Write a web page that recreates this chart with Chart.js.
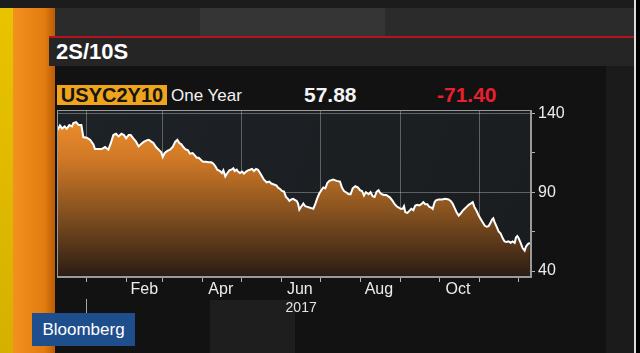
<!DOCTYPE html>
<html>
<head>
<meta charset="utf-8">
<script src="https://cdn.jsdelivr.net/npm/chart.js@4/dist/chart.umd.min.js"></script>
<style>
  html,body{margin:0;padding:0;}
  body{width:640px;height:353px;overflow:hidden;position:relative;background:#111;font-family:"Liberation Sans",Arial,sans-serif;}
  .abs{position:absolute;}
  #c{position:absolute;left:0;top:0;}
</style>
</head>
<body>
<div class="abs" style="left:0;top:0;width:640px;height:353px;background:#141414;"></div>
<div class="abs" style="left:0;top:0;width:13px;height:353px;background:linear-gradient(#e8c400,#d6b000);"></div>
<div class="abs" style="left:13px;top:0;width:42px;height:353px;background:linear-gradient(to right,#f3901e,#e27c10 75%,#b85c06);"></div>
<div class="abs" style="left:0;top:0;width:640px;height:8px;background:#1c1c1c;"></div>
<div class="abs" style="left:55px;top:8px;width:579px;height:28px;background:#2b2b2b;"></div>
<div class="abs" style="left:200px;top:8px;width:185px;height:28px;background:#353535;"></div>
<div class="abs" style="left:49px;top:36px;width:585px;height:2px;background:#b3141f;"></div>
<div class="abs" style="left:49px;top:38px;width:585px;height:28px;background:#252525;"></div>
<div class="abs" style="left:55px;top:66px;width:551px;height:287px;background:#121212;"></div>
<div class="abs" style="left:606px;top:66px;width:28px;height:287px;background:#1b1b1b;"></div>
<div class="abs" style="left:210px;top:300px;width:85px;height:53px;background:#1e1e1e;"></div>
<div class="abs" style="left:634px;top:0;width:2px;height:353px;background:#dcdcdc;"></div>
<div class="abs" style="left:636px;top:0;width:4px;height:353px;background:#000;"></div>

<div class="abs" style="left:56px;top:40px;color:#fff;font-weight:bold;font-size:22px;line-height:24px;">2S/10S</div>
<div class="abs" style="left:57px;top:85px;width:110px;height:20px;background:#f0a41c;color:#151515;font-weight:bold;font-size:20px;line-height:21px;text-align:center;">USYC2Y10</div>
<div class="abs" style="left:171px;top:85px;color:#f2f2f2;font-size:17px;line-height:21px;">One Year</div>
<div class="abs" style="left:304px;top:84px;color:#f4f4f4;font-weight:bold;font-size:21px;line-height:22px;">57.88</div>
<div class="abs" style="left:437px;top:84px;color:#e8202e;font-weight:bold;font-size:21px;line-height:22px;">-71.40</div>

<canvas id="c" width="640" height="353"></canvas>

<div class="abs" style="left:32px;top:313px;width:103px;height:33px;background:#1f4e8c;color:#fff;font-size:17px;line-height:33px;text-align:center;">Bloomberg</div>

<script>
// ---- data (days since 1 Jan 2017, spread in basis points) ----
const days = [-22.1,-20.1,-18.5,-16.5,-14.9,-12.9,-10.8,-9.8,-7.7,-5.7,
-3.6,-2.1,0.5,3.1,5.7,6.9,9.5,12.1,14.7,17.2,
19.0,21.1,23.1,25.2,27.3,29.3,30.9,32.9,34.5,36.5,
38.6,40.6,42.7,44.8,46.8,48.4,50.4,52.0,54.0,56.1,
58.1,59.2,60.7,62.8,64.8,66.9,68.9,70.5,72.0,73.6,
75.1,76.6,78.7,80.2,82.3,83.8,85.4,86.9,88.0,89.5,
90.5,92.6,94.7,96.7,98.3,99.8,101.3,103.4,104.9,106.0,
107.5,109.1,110.6,112.1,113.7,114.7,116.3,117.3,118.8,120.4,
121.9,123.5,125.0,126.5,128.1,129.6,131.2,132.7,134.3,135.8,
137.3,139.4,141.5,143.0,144.5,147.1,148.1,149.7,151.2,152.8,
154.3,155.4,156.9,158.4,160.0,161.5,162.6,163.6,164.6,165.6,
166.7,167.7,169.2,170.8,172.3,173.9,175.4,177.0,178.5,180.0,
181.6,183.1,184.7,186.2,187.8,
190.8,193.4,196.0,197.5,199.1,200.6,202.7,204.2,205.8,207.8,
209.9,211.4,213.0,214.5,216.0,218.1,219.6,221.2,222.7,224.3,
225.8,226.9,228.4,229.9,231.5,233.0,234.6,236.6,238.2,239.7,
241.3,242.8,244.4,245.4,246.4,248.0,249.5,251.0,252.6,254.1,
255.7,257.2,258.7,260.3,261.8,263.4,264.9,266.5,267.5,269.0,
270.1,272.1,274.7,277.3,279.8,281.4,282.9,284.5,286.0,287.6,
289.1,290.6,292.2,293.7,295.3,296.8,298.4,299.9,301.4,303.0,
304.5,306.1,307.6,309.2,310.7,312.2,313.3,314.3,315.3,316.9,
318.4,320.0,321.5,323.0,324.6,326.1,327.7,329.2,330.8,331.8,
332.8,333.8,335.4,336.9,338.5,339.5,341.0,342.5];

const spread = [129.3,132.4,130.5,131.8,130.3,132.6,131.8,133.9,134.5,132.6,
132.6,125.0,124.6,123.3,120.4,117.4,117.4,117.4,118.7,117.0,
120.8,126.3,127.1,125.4,127.1,126.3,124.2,126.3,126.3,124.2,
122.1,119.1,120.8,122.1,122.9,123.3,122.1,121.2,118.7,117.0,
115.3,112.4,114.9,116.2,117.0,118.7,122.1,123.3,121.2,120.4,
118.7,117.4,116.6,114.5,114.9,113.6,111.9,111.9,111.1,109.8,
109.4,109.4,109.0,109.0,108.1,106.5,104.3,103.5,102.2,103.9,
100.1,102.2,103.9,104.3,105.2,103.5,104.3,103.1,102.2,103.1,
101.8,103.1,103.9,104.3,104.8,103.5,104.8,104.3,102.2,100.1,
98.0,96.3,96.8,95.5,95.1,94.2,93.0,92.1,90.8,90.4,
87.0,86.2,84.5,85.4,85.8,84.9,84.5,82.8,79.0,80.3,
81.6,82.8,81.1,80.7,80.3,79.9,79.5,82.8,86.2,89.2,
91.3,93.0,92.5,95.9,97.2,
98.0,97.2,96.8,93.0,90.8,90.0,88.7,88.7,92.5,93.8,
93.0,91.3,90.8,87.9,90.0,88.7,90.0,87.5,87.0,90.4,
91.3,89.6,88.7,88.3,88.3,87.5,86.6,84.5,82.4,81.1,
80.3,79.5,79.5,81.1,77.3,76.9,78.2,79.5,78.6,81.6,
82.0,81.6,82.4,83.7,82.4,82.4,80.7,80.3,79.5,83.7,
84.9,85.4,85.4,85.8,85.4,84.5,82.8,79.9,77.3,75.2,
76.5,78.2,79.5,80.7,82.0,82.8,83.7,80.3,78.2,75.2,
73.1,71.0,68.9,68.1,68.5,70.6,72.7,73.5,71.0,68.1,
65.1,63.8,60.9,58.8,58.4,58.8,57.9,58.8,57.9,61.3,
62.2,60.9,57.9,54.6,52.9,55.4,57.1,57.88];

// month boundaries (day index of the 1st of each month, 2017)
const monthStarts = [0,31,59,90,120,151,181,212,243,273,304,334];
const gridMonths = [0,59,120,181,243,304];
const labelDays = [45,104,165,226,287];
const labelNames = ['Feb','Apr','Jun','Aug','Oct'];
const yearTicks = [0,166];
const yearLabels = ['', '2017'];
const yTicks = [40,65,90,115,140];
const yLabelled = [40,90,140];

const FONT = '"Liberation Sans", Arial, sans-serif';
const GRID = 'rgba(205,205,205,0.38)';
const XMIN = -22.4, XMAX = 343.4;

const points = days.map((d,i)=>({x:d, y:spread[i]}));

const plotFrame = {
  id:'plotFrame',
  beforeDraw(chart){
    const {ctx, chartArea:a} = chart;
    ctx.save();
    const g = ctx.createLinearGradient(a.left, a.top, a.right, a.bottom);
    g.addColorStop(0,'#1d2226');
    g.addColorStop(1,'#1a1d20');
    ctx.fillStyle = g;
    ctx.fillRect(a.left, a.top, a.right-a.left, a.bottom-a.top);
    ctx.restore();
  },
  afterDraw(chart){
    const {ctx, chartArea:a} = chart;
    ctx.save();
    ctx.strokeStyle = '#9a9a9a';
    ctx.lineWidth = 1;
    ctx.strokeRect(Math.round(a.left)+0.5, Math.round(a.top)+0.5, Math.round(a.right-a.left)-1, Math.round(a.bottom-a.top)-1);
    ctx.restore();
  }
};

new Chart(document.getElementById('c'), {
  type:'line',
  data:{datasets:[{
    data: points,
    borderColor:'#ffffff',
    borderWidth:2,
    pointRadius:0,
    tension:0,
    fill:'start',
    backgroundColor:(c)=>{
      const ch = c.chart, a = ch.chartArea;
      if(!a) return 'rgba(0,0,0,0)';
      const g = ch.ctx.createLinearGradient(0, a.top, 0, a.bottom);
      g.addColorStop(0,'#f4922e');
      g.addColorStop(0.3,'#cf7826');
      g.addColorStop(0.62,'#83501f');
      g.addColorStop(1,'#2a1c14');
      return g;
    }
  }]},
  options:{
    responsive:false,
    animation:false,
    events:[],
    layout:{padding:{left:57, top:110, right:0, bottom:0}},
    plugins:{legend:{display:false}, tooltip:{enabled:false}},
    scales:{
      x:{
        type:'linear', position:'bottom', weight:0, min:XMIN, max:XMAX,
        afterBuildTicks:s=>{ s.ticks = monthStarts.map(v=>({value:v})); },
        ticks:{display:false},
        grid:{color:c=> (c.tick && gridMonths.includes(c.tick.value)) ? GRID : 'rgba(0,0,0,0)', tickColor:'#b4b4b4', tickLength:5, drawTicks:true},
        border:{color:'#9a9a9a', width:1},
        afterFit:s=>{ s.height = 5; }
      },
      x2:{
        type:'linear', position:'bottom', weight:1, min:XMIN, max:XMAX,
        afterBuildTicks:s=>{ s.ticks = labelDays.map(v=>({value:v})); },
        ticks:{callback:(v,i)=>labelNames[i], color:'#ececec', font:{family:FONT, size:16}, padding:-2, autoSkip:false, maxRotation:0},
        grid:{display:false, drawTicks:false, tickLength:0},
        border:{display:false},
        afterFit:s=>{ s.height = 17; }
      },
      x3:{
        type:'linear', position:'bottom', weight:2, min:XMIN, max:XMAX,
        afterBuildTicks:s=>{ s.ticks = yearTicks.map(v=>({value:v})); },
        ticks:{callback:(v,i)=>yearLabels[i], color:'#e4e4e4', font:{family:FONT, size:14}, padding:-14, autoSkip:false, maxRotation:0},
        grid:{display:true, drawOnChartArea:false, drawTicks:true, tickLength:15, color:c=> (c.tick && c.tick.value===0) ? '#a8a8a8' : 'rgba(0,0,0,0)'},
        border:{display:false},
        afterFit:s=>{ s.height = 54; }
      },
      y:{
        type:'linear', position:'right', min:36.2, max:142.2,
        afterBuildTicks:s=>{ s.ticks = yTicks.map(v=>({value:v})); },
        ticks:{callback:v=> yLabelled.includes(v) ? String(v) : '', color:'#ececec', font:{family:FONT, size:16}, padding:3},
        grid:{color:c=> (c.tick && yLabelled.includes(c.tick.value)) ? GRID : 'rgba(0,0,0,0)', tickColor:'#b4b4b4', tickLength:4},
        border:{color:'#9a9a9a', width:1},
        afterFit:s=>{ s.width = 109; }
      }
    }
  },
  plugins:[plotFrame]
});
</script>
</body>
</html>
